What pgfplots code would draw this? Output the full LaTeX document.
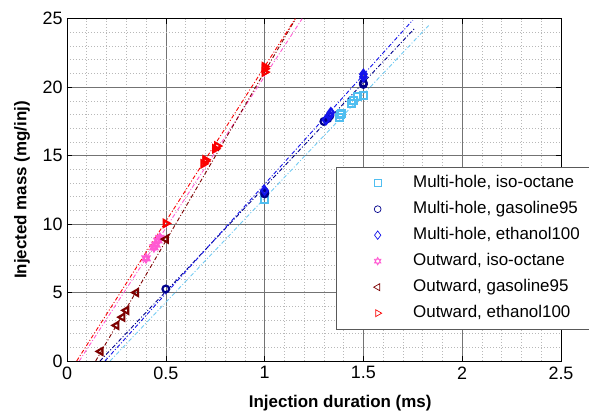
\documentclass[border=0pt]{standalone}
\usepackage{fontspec}
\setmainfont{Liberation Sans}
\usepackage{pgfplots}
\pgfplotsset{compat=1.18}
\definecolor{cMHiso}{RGB}{80,190,240}
\definecolor{cMHgas}{RGB}{0,0,140}
\definecolor{cMHeth}{RGB}{20,20,235}
\definecolor{cOWiso}{RGB}{255,90,210}
\definecolor{cOWgas}{RGB}{125,0,0}
\definecolor{cOWeth}{RGB}{250,0,0}
\pgfdeclareplotmark{hexagram}{%
  \pgfpathmoveto{\pgfqpointpolar{90}{\pgfplotmarksize}}%
  \pgfpathlineto{\pgfqpointpolar{210}{\pgfplotmarksize}}%
  \pgfpathlineto{\pgfqpointpolar{330}{\pgfplotmarksize}}%
  \pgfpathclose
  \pgfpathmoveto{\pgfqpointpolar{270}{\pgfplotmarksize}}%
  \pgfpathlineto{\pgfqpointpolar{30}{\pgfplotmarksize}}%
  \pgfpathlineto{\pgfqpointpolar{150}{\pgfplotmarksize}}%
  \pgfpathclose
  \pgfusepathqstroke}
\begin{document}
\begin{tikzpicture}
\begin{axis}[
  scale only axis, width=494bp, height=342.3bp,
  xmin=0, xmax=2.5, ymin=0, ymax=25,
  xtick={0,0.5,1,1.5,2,2.5}, ytick={0,5,10,15,20,25},
  minor x tick num=4, minor y tick num=4,
  grid=both,
  major grid style={black!55, line width=0.5pt},
  minor grid style={black!28, line width=0.6pt, dash pattern=on 1bp off 2bp},
  tick align=inside, major tick length=5bp, minor tick length=0pt,
  tick style={black, line width=0.5pt},
  axis line style={black, line width=0.6pt},
  ticklabel style={font=\fontsize{18}{18}\selectfont},
  /pgf/number format/assume math mode=true,
  xticklabel style={yshift=-2bp},
  yticklabel style={xshift=-1bp},
  xlabel={Injection duration (ms)}, ylabel={Injected mass (mg/inj)},
  label style={font=\fontsize{17}{17}\selectfont\bfseries},
  x label style={at={(axis description cs:0.553,-0.1227)}, anchor=center},
  y label style={at={(axis description cs:-0.0911,0.5)}, anchor=center},
  legend style={at={(rel axis cs:0.5445,0.5668)}, anchor=north west,
    font=\fontsize{17}{17}\selectfont, draw=black!65, fill=white,
    nodes={inner sep=0pt, text height=12bp, text depth=3bp},
    inner xsep=37.5bp, inner ysep=8.5bp, row sep=11bp, column sep=31.5bp},
  legend cell align=left,
  every legend image post/.append style={every mark/.append style={line width=0.7pt}},
  lines/.style={forget plot, line width=0.9bp, dash pattern=on 4bp off 2bp on 1bp off 2bp},
  pts/.style={only marks, line width=2.1bp},
]
% fitted lines
\addplot[lines, cMHiso!80] coordinates {(0.218,0) (1.83,24.5)};
\addplot[lines, cMHgas] coordinates {(0.167,0) (1.76,24.3)};
\addplot[lines, cMHeth] coordinates {(0.192,0) (1.75,24.9)};
\addplot[lines, cOWiso] coordinates {(0.062,0) (1.19,25)};
\addplot[lines, cOWgas] coordinates {(0.145,0) (1.157,25)};
\addplot[lines, cOWeth] coordinates {(0.049,0) (1.155,25)};
% measured points
\addplot[pts, cMHiso, mark=square, mark size=3.4bp] coordinates {
 (1.0,11.8) (1.38,17.8) (1.385,18.0) (1.39,18.1) (1.44,18.8) (1.45,19.0) (1.47,19.3) (1.5,19.4)};
\addlegendentry{Multi-hole, iso-octane}
\addplot[pts, cMHgas, mark=o, mark size=3.4bp] coordinates {
 (0.5,5.26) (1.0,12.2) (1.0,12.35) (1.3,17.5) (1.32,17.7) (1.33,17.9) (1.5,20.2) (1.5,20.3)};
\addlegendentry{Multi-hole, gasoline95}
\addplot[pts, cMHeth, mark=diamond, mark size=4.2bp] coordinates {
 (1.0,12.45) (1.31,17.6) (1.33,17.95) (1.335,18.15) (1.5,20.75) (1.5,20.95)};
\addlegendentry{Multi-hole, ethanol100}
\addplot[pts, cOWiso, mark=hexagram, mark size=3.8bp] coordinates {
 (0.4,7.5) (0.44,8.3) (0.45,8.5) (0.46,8.8) (0.47,9.0)};
\addlegendentry{Outward, iso-octane}
\addplot[pts, cOWgas, mark=triangle, mark size=4bp, mark options={rotate=90}] coordinates {
 (0.17,0.7) (0.25,2.6) (0.28,3.2) (0.3,3.7) (0.35,5.0) (0.5,8.9)};
\addlegendentry{Outward, gasoline95}
\addplot[pts, cOWeth, mark=triangle, mark size=4bp, mark options={rotate=-90}] coordinates {
 (0.5,10.05) (0.69,14.4) (0.70,14.6) (0.70,14.7) (0.75,15.5) (0.76,15.7) (1.0,21.1) (1.0,21.35) (1.0,21.5)};
\addlegendentry{Outward, ethanol100}
\end{axis}
\pgfresetboundingbox
\path[use as bounding box] (-67bp,-51bp) rectangle (522bp,361bp);
\end{tikzpicture}
\end{document}
